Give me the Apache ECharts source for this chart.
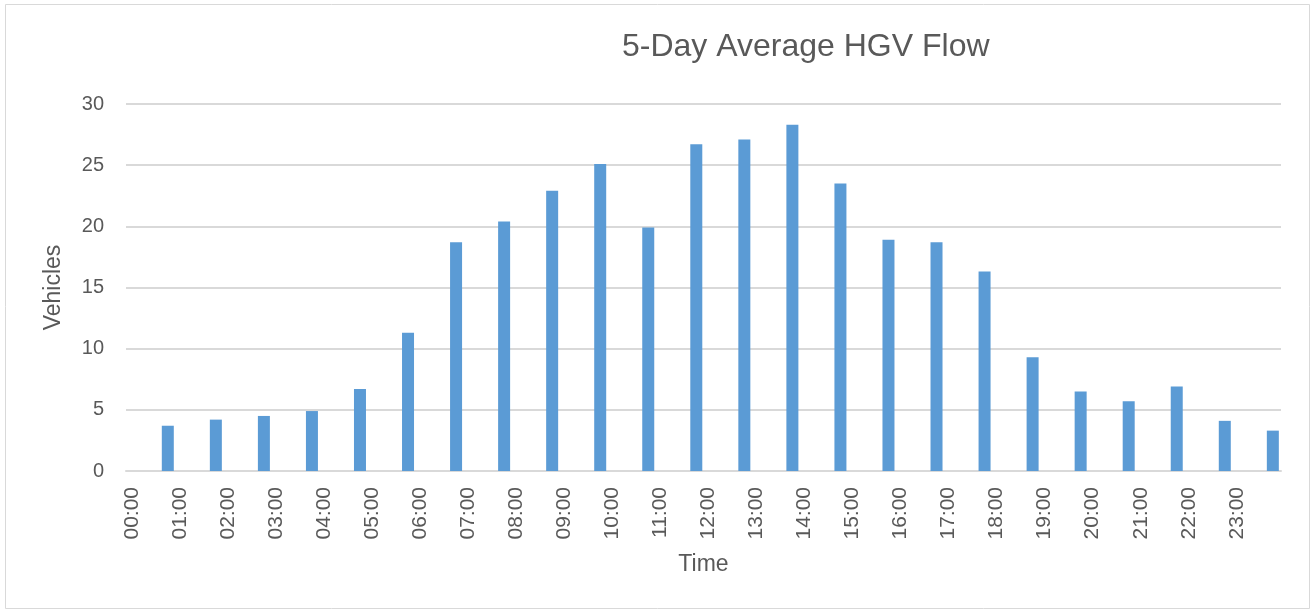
<!DOCTYPE html>
<html>
<head>
<meta charset="utf-8">
<script src="https://cdn.jsdelivr.net/npm/echarts@6/dist/echarts.min.js"></script>
<style>
  html, body { margin: 0; padding: 0; background: #fff; }
  #chart { width: 1314px; height: 612px; }
</style>
</head>
<body>
<div id="chart"></div>
<script>
// hour labels on the x axis
var hours = ['00:00', '01:00', '02:00', '03:00', '04:00', '05:00', '06:00', '07:00',
  '08:00', '09:00', '10:00', '11:00', '12:00', '13:00', '14:00', '15:00',
  '16:00', '17:00', '18:00', '19:00', '20:00', '21:00', '22:00', '23:00'];
// 5-day average HGV count for each hour
var flow = [3.7, 4.2, 4.5, 4.9, 6.7, 11.3, 18.7, 20.4, 22.9, 25.1, 19.9, 26.7,
  27.1, 28.3, 23.5, 18.9, 18.7, 16.3, 9.3, 6.5, 5.7, 6.9, 4.1, 3.3];
// bars sit at quarter to the next hour in the source sheet
var offset = 0.75;
var yTicks = [0, 5, 10, 15, 20, 25, 30];

var myChart = echarts.init(document.getElementById('chart'));

var font = 'Liberation Sans';
var textColor = '#595959';

var option = {
  backgroundColor: '#fff',
  animation: false,
  graphic: [{
    type: 'rect',
    shape: { x: 5.5, y: 4.5, width: 1304, height: 604 },
    style: { fill: 'none', stroke: '#d9d9d9', lineWidth: 1 }
  }],
  title: {
    text: '5-Day Average HGV Flow',
    left: 617,
    top: 26,
    textStyle: { fontFamily: font, fontSize: 32, fontWeight: 'normal', color: textColor }
  },
  grid: { left: 126, right: 33, top: 104, bottom: 141 },
  xAxis: {
    type: 'value',
    min: -0.12,
    max: 23.92,
    name: 'Time',
    nameLocation: 'middle',
    nameGap: 82,
    nameTextStyle: { fontFamily: font, fontSize: 23, color: textColor },
    axisLine: { show: true, lineStyle: { color: '#d9d9d9', width: 2 } },
    axisTick: { show: false },
    splitLine: { show: false },
    axisLabel: {
      customValues: hours.map(function (h, i) { return i; }),
      formatter: function (v) { return hours[Math.round(v)]; },
      rotate: 90,
      margin: 16,
      fontFamily: font,
      fontSize: 21,
      color: textColor
    }
  },
  yAxis: {
    type: 'value',
    min: yTicks[0],
    max: yTicks[yTicks.length - 1],
    interval: 5,
    name: 'Vehicles',
    nameLocation: 'middle',
    nameGap: 61,
    nameTextStyle: { fontFamily: font, fontSize: 23, color: textColor },
    axisLine: { show: false },
    axisTick: { show: false },
    splitLine: { lineStyle: { color: '#d9d9d9', width: 2 } },
    axisLabel: { margin: 22, fontFamily: font, fontSize: 20, color: textColor }
  },
  series: [{
    name: 'HGV Flow',
    type: 'bar',
    barWidth: 12,
    itemStyle: { color: '#5b9bd5' },
    data: flow.map(function (v, i) { return [i + offset, v]; })
  }]
};

myChart.setOption(option);
</script>
</body>
</html>
